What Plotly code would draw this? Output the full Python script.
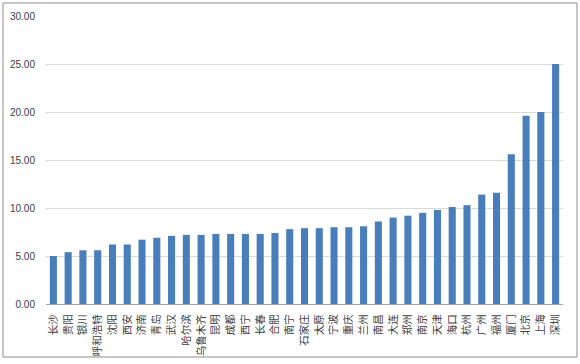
import plotly.graph_objects as go

cities = ["长沙", "贵阳", "银川", "呼和浩特", "沈阳", "西安", "济南", "青岛", "武汉", "哈尔滨",
          "乌鲁木齐", "昆明", "成都", "西宁", "长春", "合肥", "南宁", "石家庄", "太原", "宁波",
          "重庆", "兰州", "南昌", "大连", "郑州", "南京", "天津", "海口", "杭州", "广州",
          "福州", "厦门", "北京", "上海", "深圳"]
values = [5.0, 5.4, 5.6, 5.6, 6.2, 6.2, 6.7, 6.9, 7.1, 7.2,
          7.2, 7.3, 7.3, 7.3, 7.3, 7.4, 7.8, 7.9, 7.9, 8.0,
          8.0, 8.1, 8.6, 9.0, 9.2, 9.5, 9.8, 10.1, 10.3, 11.4,
          11.6, 15.6, 19.6, 20.0, 25.0]
y_ticks = [0, 5, 10, 15, 20, 25, 30]

fig = go.Figure(go.Bar(x=cities, y=values, marker=dict(color="#4A7EBB", line=dict(width=0))))

W, H = 580, 364
ml, mr, mt, mb = 46, 17, 16, 60
pw, ph = W - ml - mr, H - mt - mb

fig.update_layout(
    width=W, height=H,
    margin=dict(l=ml, r=mr, t=mt, b=mb, autoexpand=False),
    paper_bgcolor="white", plot_bgcolor="white",
    bargap=0.52,
    showlegend=False,
    font=dict(family="Noto Sans CJK SC, Liberation Serif", size=10, color="#404040"),
    xaxis=dict(tickmode="array", tickvals=cities, ticktext=cities, tickangle=-90,
               showline=True, linecolor="#A6A6A6", linewidth=1, showgrid=False,
               tickfont=dict(size=10.5, family="Noto Sans CJK SC", color="#404040"),
               ticks="", ticklabelstandoff=5, automargin=False, fixedrange=True),
    yaxis=dict(range=[0, 30], tickvals=y_ticks, tickformat=".2f",
               showgrid=True, gridcolor="#D9D9D9", gridwidth=1,
               zeroline=False, showline=False,
               tickfont=dict(size=10, family="Liberation Sans", color="#404040"),
               ticks="", ticklabelstandoff=10, automargin=False, fixedrange=True),
    shapes=[dict(type="rect", xref="paper", yref="paper",
                 x0=(3 - ml) / pw, x1=(577 - ml) / pw,
                 y0=(mt + ph - 357) / ph, y1=(mt + ph - 3) / ph,
                 line=dict(color="#8C8C8C", width=1), fillcolor="rgba(0,0,0,0)", layer="below")],
)

fig.write_html("out.html")
